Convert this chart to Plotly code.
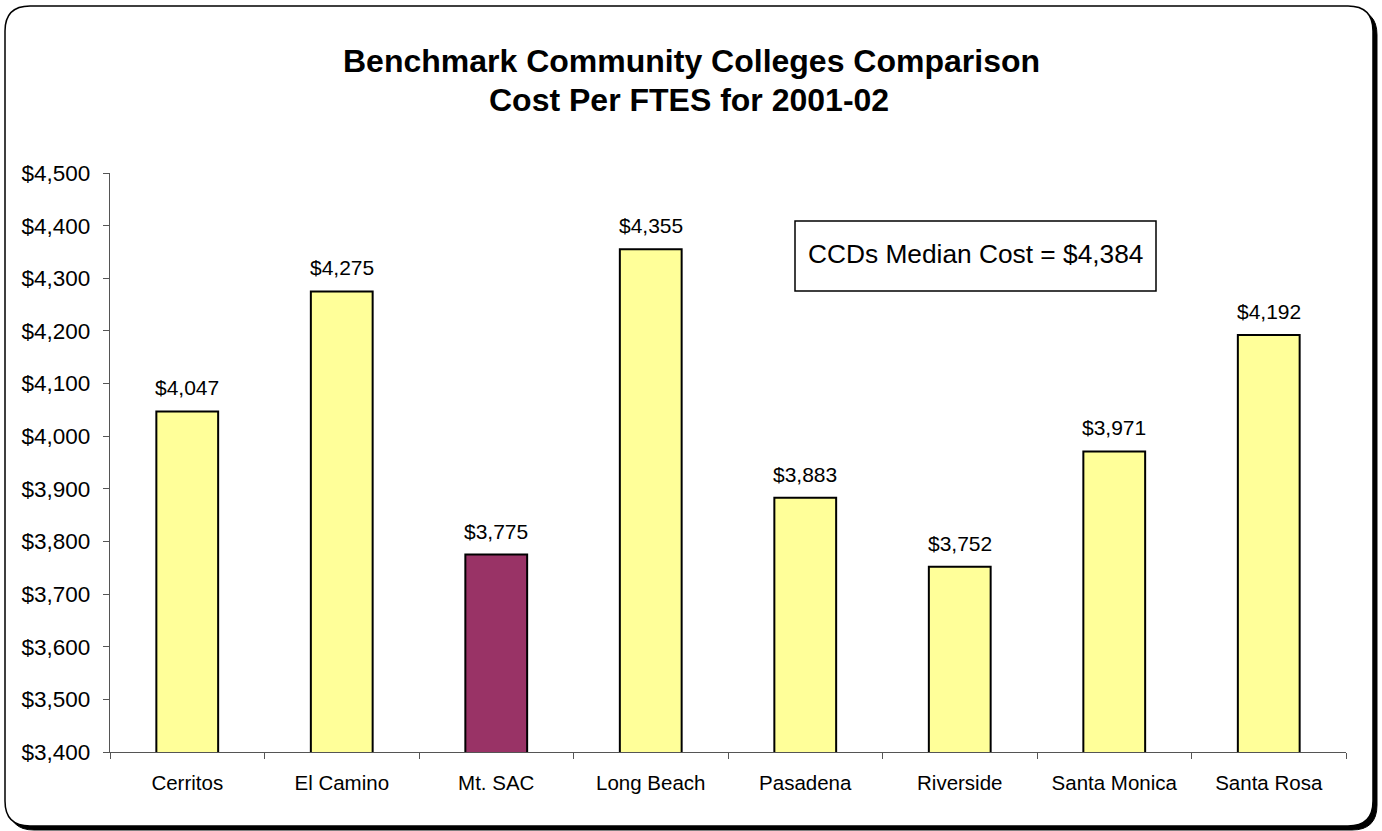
import plotly.graph_objects as go

colleges = ["Cerritos", "El Camino", "Mt. SAC", "Long Beach", "Pasadena",
            "Riverside", "Santa Monica", "Santa Rosa"]
cost_per_ftes = [4047, 4275, 3775, 4355, 3883, 3752, 3971, 4192]
bar_colors = ["#FFFF99", "#FFFF99", "#993366", "#FFFF99", "#FFFF99",
              "#FFFF99", "#FFFF99", "#FFFF99"]
title_lines = ["Benchmark Community Colleges Comparison", "Cost Per FTES for 2001-02"]
median_text = "CCDs Median Cost = $4,384"

W, H = 1382, 831
L, R, T, B = 110, 36, 173, 79
PW, PH = W - L - R, H - T - B
FONT = "Liberation Sans, Arial, sans-serif"


def px(x):
    return (x - L) / PW


def py(y):
    return (H - B - y) / PH


def rounded_path(x0, y0, x1, y1, r):
    pts = [
        ("M", x0 + r, y0), ("L", x1 - r, y0), ("Q", x1, y0, x1, y0 + r),
        ("L", x1, y1 - r), ("Q", x1, y1, x1 - r, y1), ("L", x0 + r, y1),
        ("Q", x0, y1, x0, y1 - r), ("L", x0, y0 + r), ("Q", x0, y0, x0 + r, y0),
    ]
    parts = []
    for p in pts:
        if p[0] == "Q":
            parts.append(f"Q {px(p[1]):.5f},{py(p[2]):.5f} {px(p[3]):.5f},{py(p[4]):.5f}")
        else:
            parts.append(f"{p[0]} {px(p[1]):.5f},{py(p[2]):.5f}")
    return " ".join(parts) + " Z"


fig = go.Figure()
fig.add_trace(go.Bar(
    x=colleges, y=cost_per_ftes,
    marker=dict(color=bar_colors, line=dict(color="black", width=2)),
    hoverinfo="skip",
))

annotations = []
for c, v in zip(colleges, cost_per_ftes):
    annotations.append(dict(
        x=c, y=v, xref="x", yref="y", text=f"${v:,}", showarrow=False,
        yanchor="bottom", yshift=10, font=dict(family=FONT, size=21, color="black"),
    ))

annotations.append(dict(x=px(691), y=py(61), xref="paper", yref="paper",
                        text=f"<b>{title_lines[0]}</b>", showarrow=False,
                        xanchor="center", yanchor="middle",
                        font=dict(family=FONT, size=32, color="black")))
annotations.append(dict(x=px(689), y=py(100), xref="paper", yref="paper",
                        text=f"<b>{title_lines[1]}</b>", showarrow=False,
                        xanchor="center", yanchor="middle",
                        font=dict(family=FONT, size=32, color="black")))
annotations.append(dict(x=px(975.5), y=py(254), xref="paper", yref="paper",
                        text=median_text, showarrow=False,
                        xanchor="center", yanchor="middle",
                        font=dict(family=FONT, size=26.3, color="black")))

shapes = [
    dict(type="path", xref="paper", yref="paper", layer="below",
         path=rounded_path(9, 10, 1377, 830, 25),
         fillcolor="black", line=dict(color="black", width=1)),
    dict(type="path", xref="paper", yref="paper", layer="below",
         path=rounded_path(5, 6, 1373, 826, 25),
         fillcolor="white", line=dict(color="black", width=1.5)),
    dict(type="rect", xref="paper", yref="paper",
         x0=px(795), x1=px(1156), y0=py(291), y1=py(221),
         fillcolor="white", line=dict(color="black", width=1.5)),
]

fig.update_layout(
    width=W, height=H,
    margin=dict(l=L, r=R, t=T, b=B, pad=0),
    paper_bgcolor="white",
    plot_bgcolor="rgba(0,0,0,0)",
    showlegend=False,
    bargap=0.6,
    font=dict(family=FONT, color="black"),
    annotations=annotations,
    shapes=shapes,
    xaxis=dict(
        showline=True, linecolor="#555555", linewidth=1.2,
        ticks="outside", tickson="boundaries", ticklen=6, tickcolor="#555555",
        tickfont=dict(family=FONT, size=20.5, color="black"),
        ticklabelstandoff=12, showgrid=False, zeroline=False, fixedrange=True,
    ),
    yaxis=dict(
        range=[3400, 4500], dtick=100, tick0=3400, tickformat="$,.0f",
        showline=True, linecolor="#555555", linewidth=1.2,
        ticks="outside", ticklen=6, tickcolor="#555555",
        tickfont=dict(family=FONT, size=22.5, color="black"),
        ticklabelstandoff=8, showgrid=False, zeroline=False, fixedrange=True,
    ),
)

fig.write_html("out.html", config={"displayModeBar": False},
               post_script="document.body.style.margin='0';document.body.style.overflow='hidden';")
